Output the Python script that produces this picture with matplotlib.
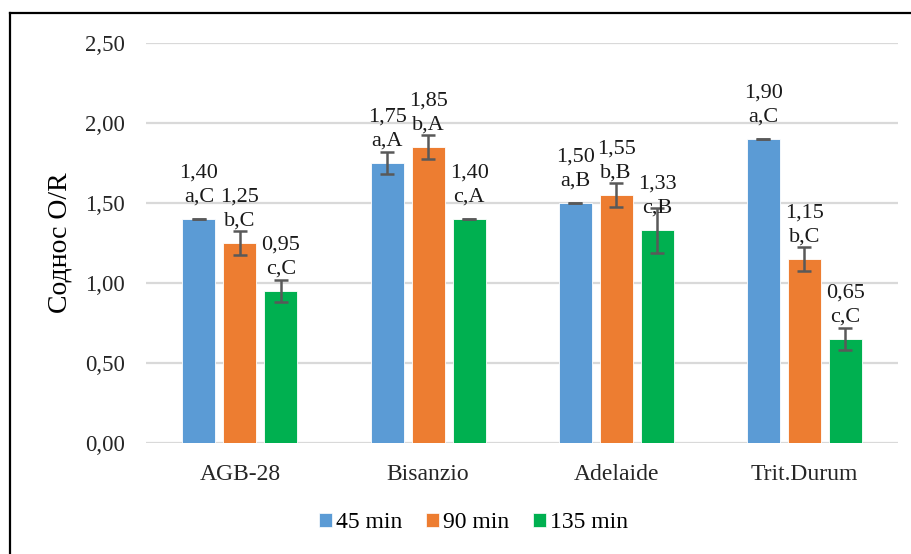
import numpy as np
import matplotlib.pyplot as plt
from matplotlib.lines import Line2D
from matplotlib.patches import Patch

plt.rcParams['font.family'] = ['Liberation Serif', 'DejaVu Serif']

cultivars = ['AGB-28', 'Bisanzio', 'Adelaide', 'Trit.Durum']
series = ['45 min', '90 min', '135 min']
colors = ['#5B9BD5', '#ED7D31', '#00B050']

vals_45 = [1.40, 1.75, 1.50, 1.90]
vals_90 = [1.25, 1.85, 1.55, 1.15]
vals_135 = [0.95, 1.40, 1.33, 0.65]

err_45 = [0.003, 0.07, 0.003, 0.003]
err_90 = [0.075, 0.075, 0.075, 0.075]
err_135 = [0.07, 0.003, 0.14, 0.07]

letters_45 = ['a,C', 'a,A', 'a,B', 'a,C']
letters_90 = ['b,C', 'b,A', 'b,B', 'b,C']
letters_135 = ['c,C', 'c,A', 'c,B', 'c,C']

values = [vals_45, vals_90, vals_135]
errors = [err_45, err_90, err_135]
letters = [letters_45, letters_90, letters_135]

fig = plt.figure(figsize=(9.12, 5.54), dpi=100)
ax = fig.add_axes([0.160, 0.2004, 0.825, 0.722])

x = np.arange(len(cultivars))
width = 0.1755
step = 0.218

for i in range(3):
    xs = x + (i - 1) * step
    ax.bar(xs, values[i], width, color=colors[i], edgecolor='white',
           linewidth=0.6, zorder=2)
    ax.errorbar(xs, values[i], yerr=errors[i], fmt='none', ecolor='#595959',
                elinewidth=1.8, capsize=5, capthick=1.8, zorder=3)
    for xi, v, lab in zip(xs, values[i], letters[i]):
        txt = ('%.2f' % v).replace('.', ',') + '\n' + lab
        ax.annotate(txt, (xi, v), xytext=(0, 9), textcoords='offset points',
                    ha='center', va='bottom', fontsize=16,
                    linespacing=1.35, color='#1a1a1a', zorder=4)

ax.set_xlim(-0.5, len(cultivars) - 0.5)
ax.set_ylim(0, 2.5)
ax.set_yticks(np.arange(0, 2.51, 0.5))
ax.set_yticklabels([('%.2f' % t).replace('.', ',') for t in np.arange(0, 2.51, 0.5)])
ax.set_xticks(x)
ax.set_xticklabels(cultivars)
ax.tick_params(axis='both', length=0, labelsize=16.5, colors='#262626')
ax.tick_params(axis='x', labelsize=17, pad=15)
ax.tick_params(axis='y', pad=15)
ax.grid(axis='y', color='#d9d9d9', linewidth=1.6, zorder=0)
ax.set_axisbelow(True)
for s in ax.spines.values():
    s.set_visible(False)

ax.set_ylabel('Соднос O/R', fontsize=20)
ax.yaxis.set_label_coords(-0.097, 0.5)

handles = [Patch(facecolor=c, edgecolor='white', linewidth=0.5) for c in colors]
fig.legend(handles, series, loc='center', bbox_to_anchor=(0.519, 0.056),
           ncol=3, frameon=False, fontsize=17, handlelength=0.55,
           handleheight=0.55, handletextpad=0.17, columnspacing=1.0)

# chart frame
fig.add_artist(Line2D([10.5 / 912, 10.5 / 912], [0, 1 - 13 / 554],
                      transform=fig.transFigure, color='black', linewidth=1.6))
fig.add_artist(Line2D([10.5 / 912, 1], [1 - 13 / 554, 1 - 13 / 554],
                      transform=fig.transFigure, color='black', linewidth=1.6))

fig.savefig('out.png', dpi=100)
